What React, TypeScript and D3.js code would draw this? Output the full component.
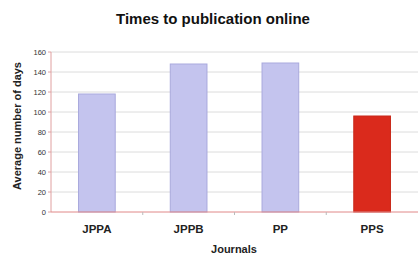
import React from "react";
import * as d3 from "d3";

const categories = ["JPPA", "JPPB", "PP", "PPS"];
const values = [118, 148, 149, 96];
const yTicks = [0, 20, 40, 60, 80, 100, 120, 140, 160];
const highlight = ["PPS"];

const W = 418, H = 255;
const m = { left: 51, right: 0, top: 52, bottom: 43 };

export default function App() {
  const x = d3.scaleBand<string>().domain(categories).range([m.left, W - m.right]).paddingInner(0.6).paddingOuter(0.3);
  const xb = d3.scaleBand<string>().domain(categories).range([m.left, W - m.right]);
  const y = d3.scaleLinear().domain([0, 160]).range([H - m.bottom, m.top]);
  const y0 = y(0);
  return (
    <svg width={W} height={H} style={{ position: "absolute", left: 0, top: 0 }} fontFamily="Liberation Sans, Arial, sans-serif">
      <rect width={W} height={H} fill="#fff" />
      <text x={213} y={24} textAnchor="middle" fontSize={15} fontWeight="bold" fill="#111">Times to publication online</text>
      {yTicks.filter(t => t > 0).map(t => (
        <line key={t} x1={m.left} x2={W} y1={y(t)} y2={y(t)} stroke="#dcdcdc" strokeWidth={1} />
      ))}
      {yTicks.map(t => (
        <g key={"t" + t}>
          <line x1={m.left - 3} x2={m.left} y1={y(t)} y2={y(t)} stroke="#e0a0a0" />
          <text x={m.left - 5} y={y(t)} dy="0.35em" textAnchor="end" fontSize={7.5} fill="#333">{t}</text>
        </g>
      ))}
      {categories.map((c, i) => (
        <rect key={c} x={x(c)} y={y(values[i])} width={x.bandwidth()} height={y0 - y(values[i])}
          fill={highlight.includes(c) ? "#da2a1c" : "#c4c4ee"}
          stroke={highlight.includes(c) ? "#c8281a" : "#a9a9dd"} strokeWidth={1} />
      ))}
      <line x1={m.left} x2={m.left} y1={m.top} y2={y0} stroke="#e0a0a0" />
      <line x1={m.left} x2={W} y1={y0} y2={y0} stroke="#e08888" />
      {categories.slice(1).map(c => (
        <line key={"xt" + c} x1={xb(c)} x2={xb(c)} y1={y0} y2={y0 + 3} stroke="#bbb" />
      ))}
      {categories.map(c => (
        <text key={"l" + c} x={x(c)! + x.bandwidth() / 2} y={233} textAnchor="middle" fontSize={11.5} fontWeight="bold" fill="#222">{c}</text>
      ))}
      <text x={234} y={253} textAnchor="middle" fontSize={11} fontWeight="bold" fill="#222">Journals</text>
      <text transform={`translate(21,${(m.top + y0) / 2 - 6}) rotate(-90)`} textAnchor="middle" fontSize={11} fontWeight="bold" fill="#222">Average number of days</text>
    </svg>
  );
}
